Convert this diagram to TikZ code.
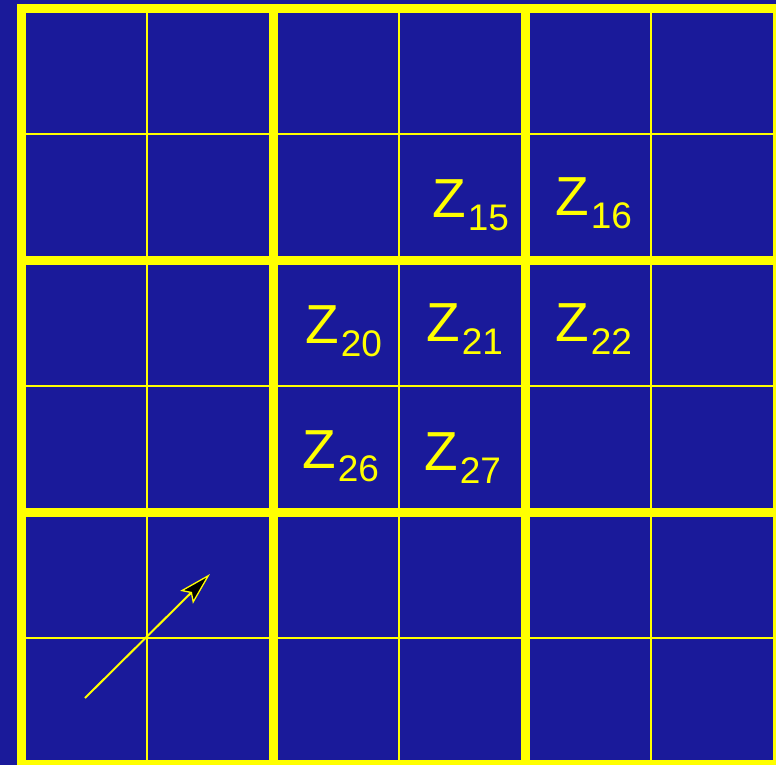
\documentclass[tikz,border=0pt]{standalone}
\usepackage{fontspec}
\setmainfont{Liberation Sans}
\usetikzlibrary{arrows.meta}
\definecolor{bgblue}{RGB}{26,26,154}
\definecolor{gridyellow}{RGB}{255,255,0}
\tikzset{
  thinline/.style={draw=gridyellow, line width=2pt},
  thickline/.style={draw=gridyellow, line width=9pt},
  zlabel/.style={text=gridyellow, inner sep=0pt, anchor=base west, font=\fontsize{55}{55}\selectfont},
}
\newcommand{\zsub}[1]{Z\hspace{2pt}\raisebox{-13pt}{\fontsize{37}{37}\selectfont #1}}
\begin{document}
\begin{tikzpicture}[x=1pt,y=-1pt]
\path[use as bounding box, fill=bgblue] (0,0) rectangle (776,765);
% thin lines
\foreach \i in {0,1,2}{
  \draw[thinline] ({147+252*\i},8.5) -- ({147+252*\i},764.5);
  \draw[thinline] (21.5,{134+252*\i}) -- (777.5,{134+252*\i});
}
% thick lines
\foreach \i in {0,1,2,3}{
  \draw[thickline] ({21.5+252*\i},4) -- ({21.5+252*\i},769);
  \draw[thickline] (17,{8.5+252*\i}) -- (782,{8.5+252*\i});
}
% labels
\node[zlabel] (z15) at (432,217) {\zsub{15}};
\node[zlabel] (z16) at (555,215) {\zsub{16}};
\node[zlabel] (z20) at (305,343) {\zsub{20}};
\node[zlabel] (z21) at (426,341) {\zsub{21}};
\node[zlabel] (z22) at (555,341) {\zsub{22}};
\node[zlabel] (z26) at (302,468) {\zsub{26}};
\node[zlabel] (z27) at (424,470) {\zsub{27}};
% arrow
\coordinate (a0) at (85,698);
\coordinate (a1) at (210,574);
\draw[draw=gridyellow, line width=2pt, -{Stealth[length=33pt, width=18pt, inset=6pt, fill=black, line width=1.3pt]}] (a0) -- (a1);
\end{tikzpicture}
\end{document}
